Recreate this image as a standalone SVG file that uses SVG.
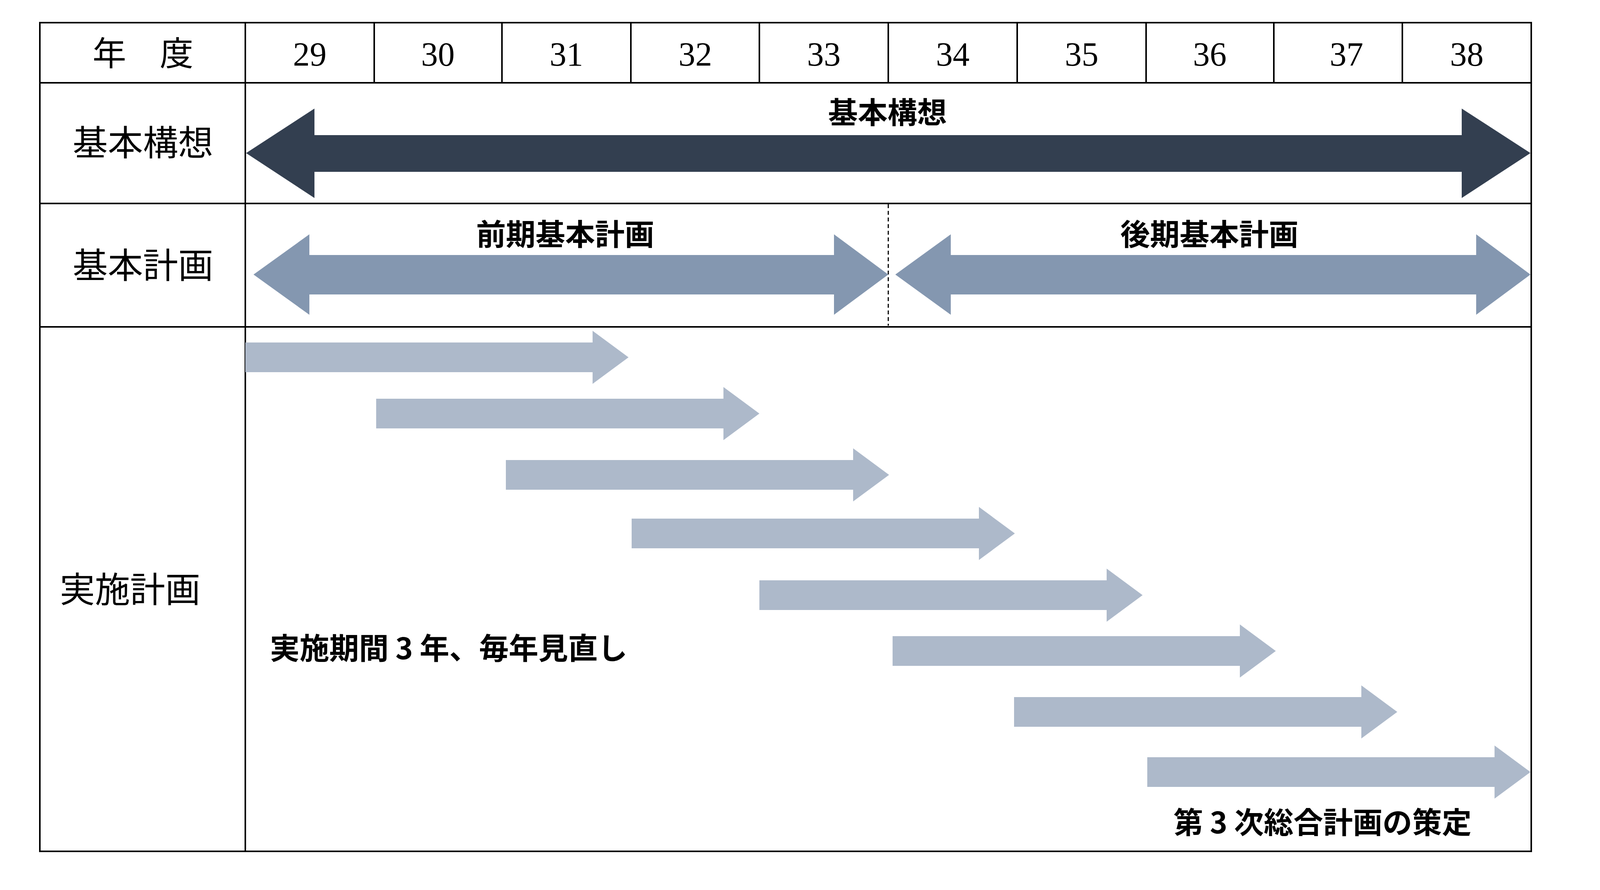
<svg xmlns="http://www.w3.org/2000/svg" width="4111" height="2279" viewBox="0 0 4111 2279">
<style>
.g{stroke:#000;stroke-width:4;fill:none}
.h{font-family:"Liberation Serif","Noto Sans CJK JP",serif;font-size:86px;text-anchor:middle;fill:#000}
.r{font-family:"Liberation Serif","Noto Sans CJK JP",serif;font-size:90px;text-anchor:middle;fill:#000}
.b{font-family:"Noto Sans CJK JP",sans-serif;font-weight:bold;font-size:76px;fill:#000}
</style>
<defs>
<path id="ia" d="M0,-38 H889 V-68 L981,0 L889,68 V38 H0 Z" fill="#adb9ca"/>
</defs>
<rect width="4111" height="2279" fill="#fff"/>
<g id="table">
<rect class="g" x="102" y="58" width="3818" height="2122"/>
<path class="g" d="M102,212H3920M102,521H3920M102,837H3920M628,58V2180"/>
<path class="g" stroke-width="3" d="M958,58V212M1285,58V212M1615,58V212M1944,58V212M2274,58V212M2604,58V212M2934,58V212M3261,58V212M3590,58V212"/>
<path stroke="#000" stroke-width="3" stroke-dasharray="10,7" d="M2274,523V834"/>
</g>
<g id="header">
<text class="h" x="366" y="168">年　度</text>
<text class="h" x="793" y="168">29</text>
<text class="h" x="1121" y="168">30</text>
<text class="h" x="1450" y="168">31</text>
<text class="h" x="1780" y="168">32</text>
<text class="h" x="2109" y="168">33</text>
<text class="h" x="2439" y="168">34</text>
<text class="h" x="2769" y="168">35</text>
<text class="h" x="3097" y="168">36</text>
<text class="h" x="3447" y="168">37</text>
<text class="h" x="3755" y="168">38</text>
</g>
<g id="rowlabels">
<text class="r" x="366" y="398">基本構想</text>
<text class="r" x="366" y="712">基本計画</text>
<text class="r" x="333" y="1542">実施計画</text>
</g>
<g id="kihonkoso">
<path d="M630,392 L805,278 V346 H3742 V278 L3918,392 L3742,507 V440 H805 V507 Z" fill="#333f50"/>
<text class="b" x="2272" y="316" text-anchor="middle">基本構想</text>
</g>
<g id="zenki">
<path d="M649,703 L792,600 V653 H2135 V600 L2274,703 L2135,806 V754 H792 V806 Z" fill="#8497b0"/>
<text class="b" x="1447" y="628" text-anchor="middle">前期基本計画</text>
</g>
<g id="kouki">
<path d="M2292,703 L2434,600 V653 H3779 V600 L3918,703 L3779,806 V754 H2434 V806 Z" fill="#8497b0"/>
<text class="b" x="3096" y="628" text-anchor="middle">後期基本計画</text>
</g>
<g id="jisshi">
<use href="#ia" x="628" y="915"/>
<use href="#ia" x="963" y="1059"/>
<use href="#ia" x="1295" y="1216"/>
<use href="#ia" x="1617" y="1366"/>
<use href="#ia" x="1944" y="1524"/>
<use href="#ia" x="2285" y="1667"/>
<use href="#ia" x="2596" y="1823"/>
<use href="#ia" x="2937" y="1977"/>
<text class="b" x="691" y="1688">実施期間 3 年、毎年見直し</text>
<text class="b" x="3004" y="2134">第 3 次総合計画の策定</text>
</g>
</svg>
